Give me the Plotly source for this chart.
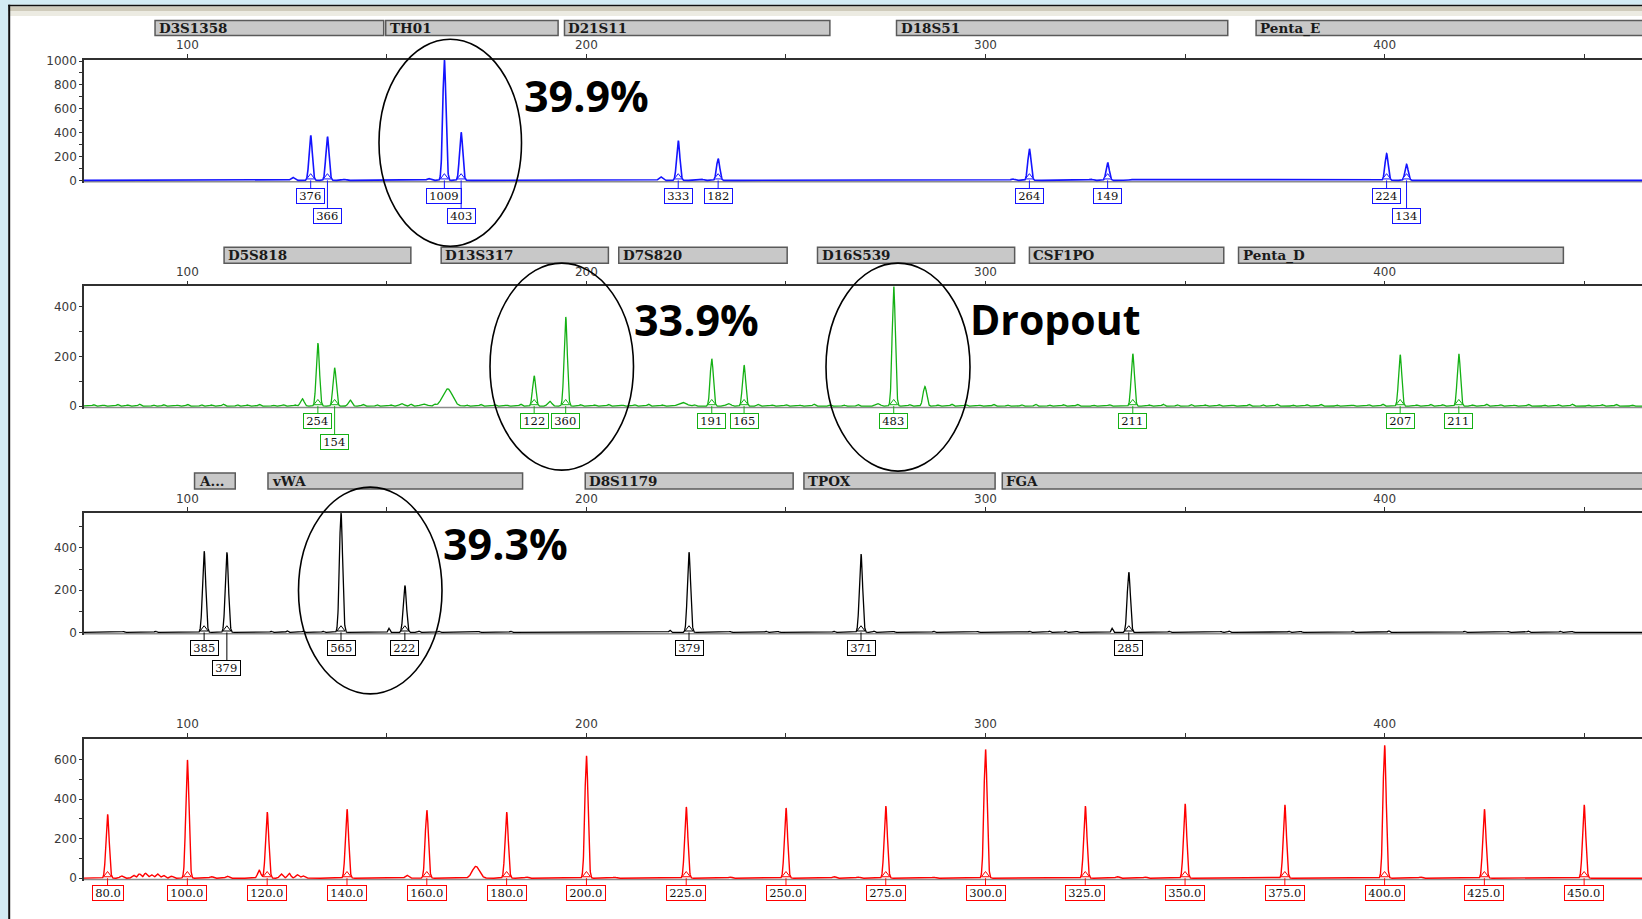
import numpy as np
import plotly.graph_objects as go

W, H = 1642, 919

# Size axis (bp), shared by all dye panels
X_MIN, X_MAX = 74.1, 464.5
PLOT_LEFT_PX = 84
SIZE_TICKS = [100, 200, 300, 400]
SIZE_MINOR = [150, 250, 350, 450]

# ---------------- Blue dye ----------------
blue_loci = ["D3S1358", "TH01", "D21S11", "D18S51", "Penta_E"]
blue_loci_start = [91.9, 149.7, 194.5, 277.7, 367.8]
blue_loci_end = [149.2, 192.9, 261.0, 360.7, 470.0]
blue_size = [130.9, 135.1, 164.4, 168.6, 223.0, 233.0, 311.0, 330.6, 400.5, 405.5]
blue_rfu = [376, 366, 1009, 403, 333, 182, 264, 149, 224, 134]
blue_row = [0, 1, 0, 1, 0, 0, 0, 0, 0, 1]
blue_art_size = [86.6, 126.4, 139.3, 160.5, 218.6, 228.8, 306.8, 326.4, 335.3, 336.8, 373.8]
blue_art_rfu = [4, 25, 8, 15, 30, 10, 12, 10, 6, 6, 5]

# ---------------- Green dye ----------------
green_loci = ["D5S818", "D13S317", "D7S820", "D16S539", "CSF1PO", "Penta_D"]
green_loci_start = [109.2, 163.6, 208.1, 257.9, 311.0, 363.4]
green_loci_end = [156.0, 205.5, 250.3, 307.3, 359.7, 444.8]
green_size = [132.7, 136.9, 186.9, 194.8, 231.4, 239.5, 277.0, 336.9, 403.9, 418.6]
green_rfu = [254, 154, 122, 360, 191, 165, 483, 211, 207, 211]
green_row = [0, 1, 0, 0, 0, 0, 0, 0, 0, 0]
green_art_size = [128.8, 140.8, 153.7, 159.2, 165.2, 190.8, 224.1, 235.6, 273.0, 284.8]
green_art_rfu = [30, 25, 10, 8, 70, 20, 15, 10, 10, 80]
green_art_width = [0.45, 0.45, 0.6, 0.8, 1.2, 0.5, 1.0, 0.6, 0.6, 0.45]
green_noise_size = [76.5, 79, 82.5, 85, 88, 91.5, 94, 97.5, 100, 103.5, 106, 109, 112.5,
                    115, 118, 121.5, 124, 127, 144, 147.5, 151, 156, 162, 170, 173.5, 177,
                    180, 183.5, 198.5, 202, 205.5, 209, 212, 215.5, 219, 227, 243, 246.5,
                    250, 253.5, 257, 261, 264.5, 268, 281, 288, 291.5, 295, 298.5, 302,
                    305.5, 309, 312.5, 316, 319.5, 323, 327, 331, 341, 344.5, 348, 351.5,
                    355, 358.5, 362, 366, 369.5, 373, 377, 380.5, 384, 388, 392, 396,
                    399.5, 408, 411.5, 414.5, 422, 425.5, 429, 432.5, 436, 440, 443.5,
                    447, 451, 454.5, 458, 462]
green_noise_rfu = [6, 4, 7, 5, 8, 5, 6, 4, 7, 6, 5, 8, 6, 5, 7, 4, 6, 5, 7, 6, 5, 8, 6,
                   5, 7, 6, 4, 8, 6, 5, 7, 4, 6, 8, 5, 6, 7, 5, 6, 4, 8, 6, 5, 7, 6, 5,
                   8, 6, 4, 7, 5, 6, 8, 5, 6, 7, 4, 6, 5, 8, 6, 7, 5, 6, 4, 7, 6, 8, 5,
                   6, 7, 5, 4, 6, 8, 5, 7, 6, 5, 8, 6, 4, 7, 5, 6, 8, 5, 6, 7, 5]

# ---------------- Black (yellow) dye ----------------
black_loci = ["A...", "vWA", "D8S1179", "TPOX", "FGA"]
black_loci_start = [101.8, 120.2, 199.7, 254.5, 304.2]
black_loci_end = [112.0, 184.0, 251.8, 302.4, 470.0]
black_size = [104.2, 109.9, 138.5, 154.5, 225.7, 268.8, 335.9]
black_rfu = [385, 379, 565, 222, 379, 371, 285]
black_row = [0, 1, 0, 0, 0, 0, 0]
black_art_size = [84.0, 92.0, 121.0, 125.0, 129.0, 134.0, 150.5, 158.0, 163.0, 173.0,
                  181.0, 220.9, 236.0, 245.0, 248.0, 262.0, 272.0, 277.0, 287.0, 298.0,
                  311.0, 316.0, 320.0, 323.0, 331.7, 346.0, 359.0, 361.0, 376.0, 379.0,
                  392.0, 401.0, 420.0, 431.0, 436.0, 444.0, 447.0]
black_art_rfu = [5, 6, 6, 8, 7, 6, 20, 7, 6, 5, 6, 10, 5, 6, 5, 6, 7, 5, 6, 5, 6, 7, 6,
                 5, 20, 6, 5, 7, 6, 5, 6, 8, 6, 5, 7, 6, 5]

# ---------------- Red (size standard) ----------------
ladder_size = [80, 100, 120, 140, 160, 180, 200, 225, 250, 275, 300, 325, 350, 375,
               400, 425, 450]
ladder_rfu = [324, 600, 335, 350, 345, 335, 621, 361, 356, 366, 653, 366, 377, 372,
              674, 350, 372]
red_art_size = [83.5, 86.5, 88.0, 89.5, 91.0, 92.5, 94.0, 96.0, 106.0, 110.0, 118.0,
                123.5, 125.5, 127.5, 129.0, 155.0, 172.3, 185.0, 207.0, 236.0, 262.0,
                268.0, 287.0, 333.0, 340.0, 409.0]
red_art_rfu = [12, 15, 22, 25, 18, 22, 14, 10, 8, 10, 40, 22, 25, 18, 12, 15, 60, 6, 5,
               6, 8, 6, 5, 8, 6, 6]

# Annotated allele-balance notes
notes = ["39.9%", "33.9%", "Dropout", "39.3%"]

BLUE, GREEN, BLACK, RED = "#1414ff", "#14b014", "#000000", "#ff0000"
AXIS = "#303030"
TICKFONT = dict(family="DejaVu Sans", size=12, color="#3a3a3a")
PAD = "\u2009"

# vertical page mapping (screen row -> figure row)
Y_OFF, Y_SCALE = 4.45, 0.989


def px_x(px):
    return px / W


def px_y(py):
    return 1 - ((py - Y_OFF) / Y_SCALE) / H


PX_PER_BP = (W - PLOT_LEFT_PX) / (X_MAX - X_MIN)


def bp_to_px(bp):
    return PLOT_LEFT_PX + (bp - X_MIN) * PX_PER_BP


xs = np.arange(X_MIN - 1, X_MAX + 1, 0.04)


def signal(peaks, heights, widths):
    y = np.zeros_like(xs)
    for p, h, s in zip(peaks, heights, widths):
        y += h * np.exp(-0.5 * ((xs - p) / s) ** 2)
    return y


panels = [
    dict(color=BLUE, base=179.0, top=58.5, ymax=1009, lw=1.6,
         yt=[0, 200, 400, 600, 800, 1000], ym=[100, 300, 500, 700, 900],
         size=blue_size, rfu=blue_rfu, row=blue_row,
         art=(blue_art_size, blue_art_rfu, [0.45] * len(blue_art_size)),
         loci=(blue_loci, blue_loci_start, blue_loci_end), bar=(19, 34)),
    dict(color=GREEN, base=405.0, top=285.0, ymax=483, lw=1.3,
         yt=[0, 200, 400], ym=[100, 300],
         size=green_size, rfu=green_rfu, row=green_row,
         art=(green_art_size + green_noise_size, green_art_rfu + green_noise_rfu,
              green_art_width + [0.3] * len(green_noise_size)),
         loci=(green_loci, green_loci_start, green_loci_end), bar=(246, 262)),
    dict(color=BLACK, base=631.5, top=512.0, ymax=565, lw=1.3,
         yt=[0, 200, 400], ym=[100, 300, 500],
         size=black_size, rfu=black_rfu, row=black_row,
         art=(black_art_size, black_art_rfu, [0.22] * len(black_art_size)),
         loci=(black_loci, black_loci_start, black_loci_end), bar=(472, 488)),
    dict(color=RED, base=877.5, top=738.0, ymax=706, lw=1.4,
         yt=[0, 200, 400, 600], ym=[100, 300, 500],
         size=ladder_size, rfu=ladder_rfu, row=[0] * len(ladder_size),
         art=(red_art_size, red_art_rfu,
              [0.9 if s == 172.3 else 0.4 for s in red_art_size]),
         loci=None, bar=None),
]

fig = go.Figure()
shapes = []
annotations = []
layout = dict(width=W, height=H, autosize=False,
              margin=dict(l=0, r=0, t=0, b=0),
              paper_bgcolor="white", plot_bgcolor="white", showlegend=False)

EXT = 2.5  # pixels below the baseline kept inside the plot area

for i, p in enumerate(panels, start=1):
    sfx = "" if i == 1 else str(i)
    scale = (p["base"] - p["top"]) / p["ymax"]  # px per RFU
    y_lo = -EXT / scale
    dom = [px_y(p["base"] + EXT), px_y(p["top"])]

    layout["xaxis" + sfx] = dict(
        domain=[px_x(PLOT_LEFT_PX), 1], range=[X_MIN, X_MAX], side="top",
        anchor="y" + sfx, showline=True, linecolor=AXIS, linewidth=1.5, mirror=False,
        ticks="outside", ticklen=4, tickwidth=1.2, tickcolor=AXIS,
        tickvals=SIZE_TICKS, ticktext=[str(v) for v in SIZE_TICKS], tickfont=TICKFONT,
        minor=dict(tickvals=SIZE_MINOR, ticks="outside", ticklen=4, tickwidth=1.2,
                   tickcolor=AXIS),
        showgrid=False, zeroline=False, fixedrange=True)
    layout["yaxis" + sfx] = dict(
        domain=dom, range=[y_lo, p["ymax"]], anchor="x" + sfx, showline=True,
        linecolor=AXIS, linewidth=1.5, ticks="outside", ticklen=3, tickwidth=1.2,
        tickcolor=AXIS, tickvals=p["yt"], ticktext=[str(v) for v in p["yt"]],
        tickfont=TICKFONT,
        minor=dict(tickvals=p["ym"], ticks="outside", ticklen=3, tickwidth=1.2,
                   tickcolor=AXIS),
        showgrid=False, zeroline=False, fixedrange=True)

    # gray baseline under the trace
    shapes.append(dict(type="line", xref="paper", yref="paper",
                       x0=px_x(PLOT_LEFT_PX), x1=1,
                       y0=px_y(p["base"] + 1.3), y1=px_y(p["base"] + 1.3),
                       line=dict(color="#8c8c8c", width=1.6), layer="below"))

    a_size, a_rfu, a_w = p["art"]
    y = signal(p["size"], p["rfu"], [0.4] * len(p["size"])) + signal(a_size, a_rfu, a_w)
    fig.add_trace(go.Scatter(x=xs, y=y, mode="lines", xaxis="x" + sfx, yaxis="y" + sfx,
                             line=dict(color=p["color"], width=p["lw"]),
                             hoverinfo="skip"))
    # peak-call markers at the base of each labelled peak
    fig.add_trace(go.Scatter(x=p["size"], y=[3.2 / scale] * len(p["size"]),
                             mode="markers", xaxis="x" + sfx, yaxis="y" + sfx,
                             marker=dict(symbol="triangle-up", size=7, color="white",
                                         line=dict(color=p["color"], width=1)),
                             cliponaxis=False, hoverinfo="skip"))

    # peak labels (height in RFU, or fragment size for the ladder)
    for s, h, r in zip(p["size"], p["rfu"], p["row"]):
        txt = f"{s:.1f}" if p["color"] == RED else str(h)
        annotations.append(dict(
            x=s, y=0, xref="x" + sfx, yref="y" + sfx, text=PAD + txt + PAD,
            showarrow=True, arrowhead=0, arrowwidth=1, arrowcolor=p["color"],
            ax=0, ay=(15 if r == 0 else 35) / Y_SCALE, standoff=0,
            font=dict(family="DejaVu Serif", size=11.5, color="#111111"),
            bordercolor=p["color"], borderwidth=1, borderpad=0, bgcolor="white"))

    # locus bins
    if p["loci"]:
        names, starts, ends = p["loci"]
        b0, b1 = p["bar"]
        for n, s0, s1 in zip(names, starts, ends):
            x0 = px_x(bp_to_px(s0))
            x1 = min(px_x(bp_to_px(s1)), 1.002)
            shapes.append(dict(type="rect", xref="paper", yref="paper",
                               x0=x0, x1=x1, y0=px_y(b1), y1=px_y(b0),
                               fillcolor="#c8c8c8", line=dict(color="#5a5a5a", width=1.5),
                               layer="above"))
            annotations.append(dict(
                x=x0 + 2 / W, y=px_y((b0 + b1) / 2), xref="paper", yref="paper",
                text=f"<b>{n}</b>", showarrow=False, xanchor="left", yanchor="middle",
                font=dict(family="DejaVu Serif", size=13.5, color="#1a1a1a")))

layout["shapes"] = shapes

# Circled loci and notes
ellipses = [(379, 521.5, 37.7, 245), (490, 633.5, 261.8, 469),
            (826, 970, 261.8, 470), (298.5, 442, 486, 693)]
for x0, x1, y0, y1 in ellipses:
    layout["shapes"].append(dict(type="circle", xref="paper", yref="paper",
                                 x0=px_x(x0), x1=px_x(x1), y0=px_y(y1), y1=px_y(y0),
                                 line=dict(color="black", width=1.6), layer="above"))

note_pos = [(586, 94), (696, 318), (1054.5, 318), (505, 542.5)]
note_size = [43, 43, 41, 43]
for t, (nx, ny), fs in zip(notes, note_pos, note_size):
    annotations.append(dict(x=px_x(nx), y=px_y(ny), xref="paper", yref="paper",
                            text=f"<b>{t}</b>", showarrow=False,
                            xanchor="center", yanchor="middle",
                            font=dict(family="Open Sans", size=fs, color="black")))

# Window frame
frame = [
    (0, W, -12, 3.3, "#d3ebf3"),
    (0, W, 3.3, 5.0, "#101010"),
    (0, W, 5.0, 9.5, "#cfcbbb"),
    (0, W, 9.5, 14.5, "#ecebe2"),
    (0, 8.2, -12, H + 12, "#d3ebf3"),
    (8.2, 10.2, 3.3, H + 12, "#101010"),
]
for x0, x1, y0, y1, c in frame:
    layout["shapes"].append(dict(type="rect", xref="paper", yref="paper",
                                 x0=px_x(x0), x1=px_x(x1), y0=px_y(y1), y1=px_y(y0),
                                 fillcolor=c, line=dict(width=0), layer="above"))

layout["annotations"] = annotations
fig.update_layout(**layout)
fig.write_html("out.html")
